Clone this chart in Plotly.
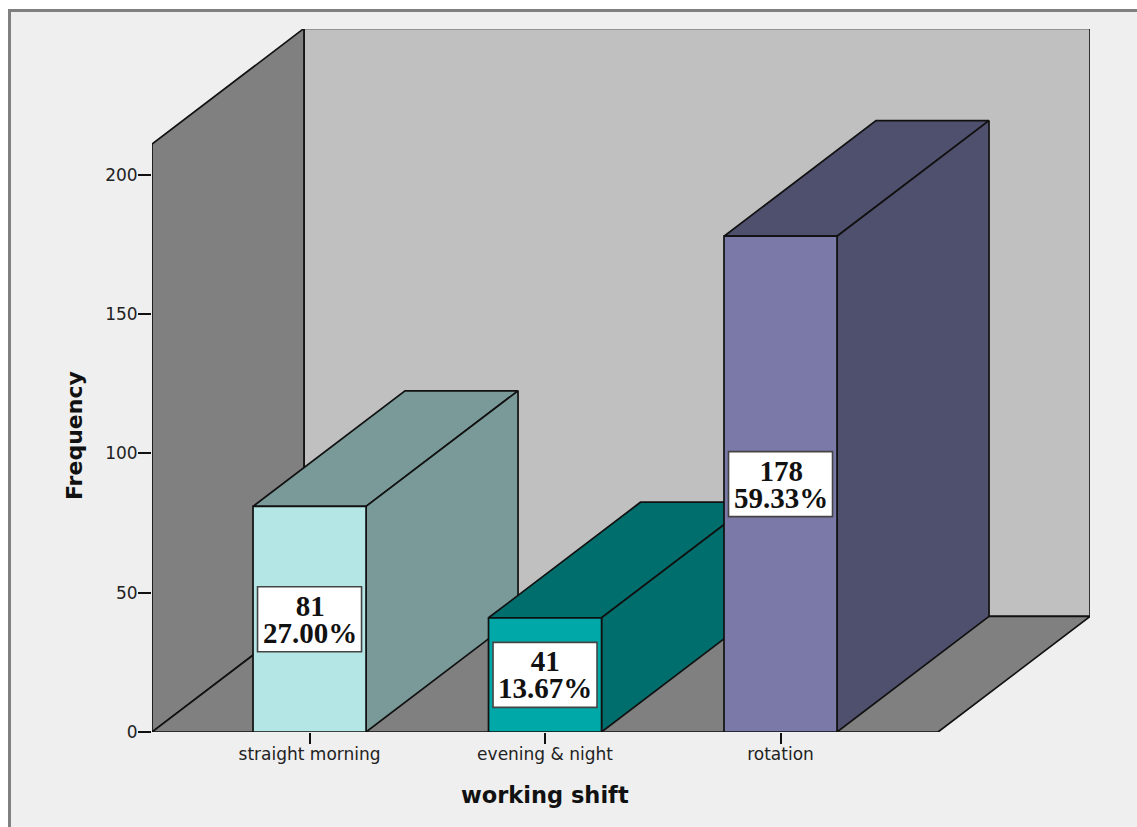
import plotly.graph_objects as go

categories = ["straight morning", "evening & night", "rotation"]
counts = [81, 41, 178]
percents = ["27.00%", "13.67%", "59.33%"]
front_colors = ["#b5e6e6", "#00a8a8", "#7a79a8"]
depth_colors = ["#7a9a9a", "#006e6c", "#4f4f6e"]
y_ticks = [0, 50, 100, 150, 200]

W, H = 1137, 827
L, R, T, B = 152, 1090, 29, 732
X_RANGE = [-0.669, 3.3142]
Y_RANGE = [0, 252.4]
FLOOR_END = 2.669
WALL_TOP = 211.1
DX = 0.6454      # oblique depth, category units
DY = 41.5        # oblique depth, frequency units
HALF = 0.24      # half bar width
EDGE = dict(color="#111111", width=1.7)


def px(v):
    return (v - L) / (R - L)


def py(v):
    return (B - v) / (B - T)


def poly(xs, ys, color):
    return go.Scatter(
        x=xs + xs[:1], y=ys + ys[:1], mode="lines", fill="toself", fillcolor=color,
        line=EDGE, hoverinfo="skip", showlegend=False,
    )


fig = go.Figure()
x0, x1 = X_RANGE[0], FLOOR_END
# back wall, left wall, floor
fig.add_trace(poly([x0 + DX, x1 + DX, x1 + DX, x0 + DX], [DY, DY, WALL_TOP + DY, WALL_TOP + DY], "#c0c0c0"))
fig.add_trace(poly([x0, x0 + DX, x0 + DX, x0], [0, DY, WALL_TOP + DY, WALL_TOP], "#808080"))
fig.add_trace(poly([x0, x1, x1 + DX, x0 + DX], [0, 0, DY, DY], "#808080"))

annotations = []
shapes = [
    dict(type="rect", xref="paper", yref="paper", x0=px(0), x1=px(W), y0=py(0), y1=py(9),
         fillcolor="white", line_width=0, layer="below"),
    dict(type="rect", xref="paper", yref="paper", x0=px(0), x1=px(8), y0=py(0), y1=py(H),
         fillcolor="white", line_width=0, layer="below"),
    dict(type="rect", xref="paper", yref="paper", x0=px(8), x1=px(W), y0=py(9), y1=py(12),
         fillcolor="#808080", line_width=0, layer="below"),
    dict(type="rect", xref="paper", yref="paper", x0=px(8), x1=px(11), y0=py(9), y1=py(H),
         fillcolor="#808080", line_width=0, layer="below"),
]
for i, (cat, v) in enumerate(zip(categories, counts)):
    a, b = i - HALF, i + HALF
    fig.add_trace(poly([a, b, b + DX, a + DX], [v, v, v + DY, v + DY], depth_colors[i]))
    fig.add_trace(poly([b, b + DX, b + DX, b], [0, DY, v + DY, v], depth_colors[i]))
    fig.add_trace(poly([a, b, b, a], [0, 0, v, v], front_colors[i]))
    shapes.append(dict(type="rect", xsizemode="pixel", ysizemode="pixel", xref="x", yref="y",
                       xanchor=i, yanchor=v / 2, x0=-52, x1=52, y0=-32.5, y1=32.5,
                       fillcolor="white", line=dict(color="#444444", width=1.6), layer="above"))
    big = "<span style='font-size:29px'><b>{}</b></span>"
    annotations.append(dict(x=i, y=v / 2, text=big.format(v) + "<br>" + big.format(percents[i]),
                            showarrow=False, align="center", xanchor="center", yanchor="middle",
                            font=dict(family="Liberation Serif", size=21, color="#111111")))

title_font = dict(family="DejaVu Sans", color="#111111")
annotations.append(dict(x=1, xref="x", y=py(795), yref="paper", text="<b>working shift</b>",
                        xanchor="center", yanchor="middle",
                        showarrow=False, font=dict(size=22.5, **title_font)))
annotations.append(dict(x=px(74), xref="paper", y=py(436), yref="paper", text="<b>Frequency</b>",
                        xanchor="center", yanchor="middle",
                        textangle=-90, showarrow=False, font=dict(size=22, **title_font)))

tick_font = dict(family="DejaVu Sans", size=17, color="#222222")
fig.update_layout(
    width=W, height=H, autosize=False,
    margin=dict(l=L, r=W - R, t=T, b=H - B),
    paper_bgcolor="#efefef", plot_bgcolor="rgba(0,0,0,0)",
    showlegend=False, annotations=annotations, shapes=shapes,
    xaxis=dict(range=X_RANGE, tickvals=list(range(len(categories))), ticktext=categories,
               ticks="outside", ticklen=11, tickwidth=1.7, tickcolor="#111111", ticklabelstandoff=-4,
               showgrid=False, zeroline=False, showline=False, tickfont=tick_font),
    yaxis=dict(range=Y_RANGE, tickvals=y_ticks, ticks="outside", ticklen=13, tickwidth=1.7,
               tickcolor="#111111", ticklabelstandoff=-3, showgrid=False, zeroline=False, showline=False,
               tickfont=tick_font),
)
fig.write_html("out.html", config=dict(displayModeBar=False),
               post_script="document.body.style.margin='0';")
